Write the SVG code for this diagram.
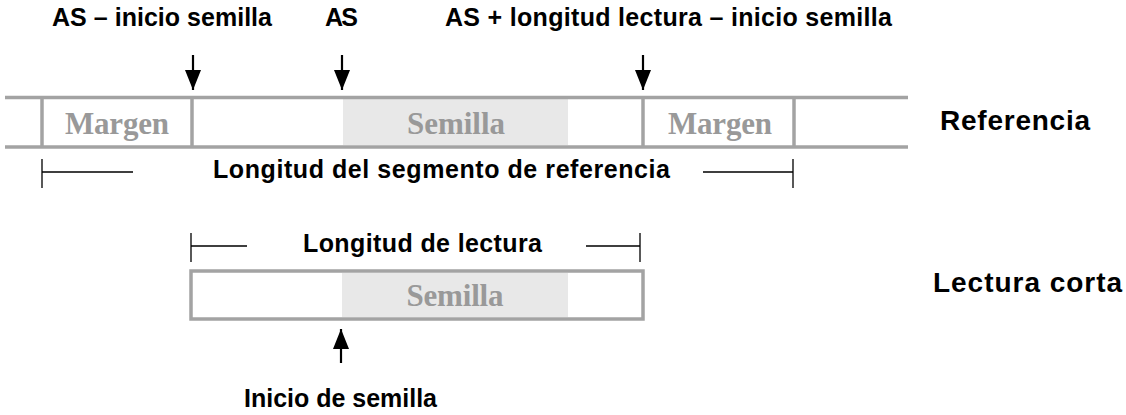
<svg xmlns="http://www.w3.org/2000/svg" width="1126" height="415" viewBox="0 0 1126 415">
<style>
.lbl{font-family:"Liberation Sans",Arial,sans-serif;font-weight:bold;font-size:25px;fill:#000}
.big{font-family:"Liberation Sans",Arial,sans-serif;font-weight:bold;font-size:28px;fill:#000}
.ser{font-family:"Liberation Serif","Times New Roman",serif;font-weight:bold;font-size:31px;fill:#999;text-anchor:middle}
.bar{stroke:#a3a3a3;stroke-width:3.5;fill:none}
.seed{fill:#e8e8e8}
.dim{stroke:#000;stroke-width:1.3;fill:none}
.arr{stroke:#000;stroke-width:2.2;fill:none}
</style>
<defs>
<marker id="ah" viewBox="0 0 20 16" refX="20" refY="8" markerWidth="20" markerHeight="16" markerUnits="userSpaceOnUse" orient="auto">
<path d="M0,0 L20,8 L0,16 z" fill="#000"/>
</marker>
</defs>
<rect width="1126" height="415" fill="#fff"/>

<g id="referencia">
<rect class="seed" x="343" y="99" width="225" height="46"/>
<line class="bar" x1="5" y1="97.5" x2="908" y2="97.5"/>
<line class="bar" x1="5" y1="147" x2="908" y2="147"/>
<line class="bar" x1="42" y1="97.5" x2="42" y2="147"/>
<line class="bar" x1="192" y1="97.5" x2="192" y2="147"/>
<line class="bar" x1="643" y1="97.5" x2="643" y2="147"/>
<line class="bar" x1="794" y1="97.5" x2="794" y2="147"/>
<text class="ser" x="117" y="134" textLength="104">Margen</text>
<text class="ser" x="456" y="134" textLength="98">Semilla</text>
<text class="ser" x="720" y="134" textLength="104">Margen</text>
<text class="big" x="940" y="130" textLength="150">Referencia</text>
</g>

<g id="lectura">
<rect class="seed" x="342" y="273" width="226" height="44"/>
<rect class="bar" x="191" y="271" width="452" height="48"/>
<text class="ser" x="455" y="306" textLength="97">Semilla</text>
<text class="big" x="933" y="292" textLength="189">Lectura corta</text>
</g>

<g id="labels">
<text class="lbl" x="52" y="26" textLength="220">AS – inicio semilla</text>
<text class="lbl" x="325" y="26" textLength="33">AS</text>
<text class="lbl" x="445" y="26" textLength="447">AS + longitud lectura – inicio semilla</text>
<text class="lbl" x="213" y="178" textLength="457">Longitud del segmento de referencia</text>
<text class="lbl" x="303" y="252" textLength="239">Longitud de lectura</text>
<text class="lbl" x="244" y="407" textLength="193">Inicio de semilla</text>
</g>

<g id="connectors">
<line class="arr" x1="193" y1="55" x2="193" y2="90" marker-end="url(#ah)"/>
<line class="arr" x1="342" y1="55" x2="342" y2="90" marker-end="url(#ah)"/>
<line class="arr" x1="643" y1="55" x2="643" y2="90" marker-end="url(#ah)"/>
<line class="arr" x1="341" y1="363" x2="341" y2="329" marker-end="url(#ah)"/>
<path class="dim" d="M42,159 V188 M42,172 H133 M703,172 H793 M793,159 V188"/>
<path class="dim" d="M191,233 V262 M191,246 H247 M586,246 H640 M640,233 V262"/>
</g>
</svg>
